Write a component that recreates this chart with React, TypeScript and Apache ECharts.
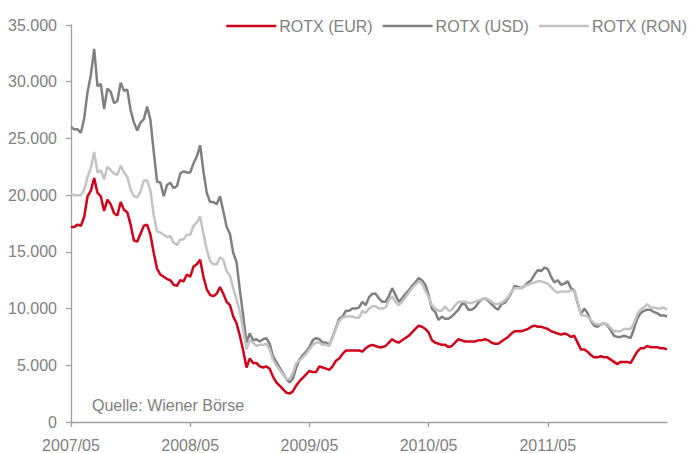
import React, { useEffect, useRef } from "react";
import * as echarts from "echarts";

// Observation dates (about every 10 days)
const dates: string[] = [
  "2007-05-01","2007-05-11","2007-05-21","2007-06-01","2007-06-11","2007-06-21","2007-07-01","2007-07-11","2007-07-21","2007-08-01","2007-08-11","2007-08-21",
  "2007-09-01","2007-09-11","2007-09-21","2007-10-01","2007-10-11","2007-10-21","2007-11-01","2007-11-11","2007-11-21","2007-12-01","2007-12-11","2007-12-21",
  "2008-01-01","2008-01-11","2008-01-21","2008-02-01","2008-02-11","2008-02-21","2008-03-01","2008-03-11","2008-03-21","2008-04-01","2008-04-11","2008-04-21",
  "2008-05-01","2008-05-11","2008-05-21","2008-06-01","2008-06-11","2008-06-21","2008-07-01","2008-07-11","2008-07-21","2008-08-01","2008-08-11","2008-08-21",
  "2008-09-01","2008-09-11","2008-09-21","2008-10-01","2008-10-11","2008-10-21","2008-11-01","2008-11-11","2008-11-21","2008-12-01","2008-12-11","2008-12-21",
  "2009-01-01","2009-01-11","2009-01-21","2009-02-01","2009-02-11","2009-02-21","2009-03-01","2009-03-11","2009-03-21","2009-04-01","2009-04-11","2009-04-21",
  "2009-05-01","2009-05-11","2009-05-21","2009-06-01","2009-06-11","2009-06-21","2009-07-01","2009-07-11","2009-07-21","2009-08-01","2009-08-11","2009-08-21",
  "2009-09-01","2009-09-11","2009-09-21","2009-10-01","2009-10-11","2009-10-21","2009-11-01","2009-11-11","2009-11-21","2009-12-01","2009-12-11","2009-12-21",
  "2010-01-01","2010-01-11","2010-01-21","2010-02-01","2010-02-11","2010-02-21","2010-03-01","2010-03-11","2010-03-21","2010-04-01","2010-04-11","2010-04-21",
  "2010-05-01","2010-05-11","2010-05-21","2010-06-01","2010-06-11","2010-06-21","2010-07-01","2010-07-11","2010-07-21","2010-08-01","2010-08-11","2010-08-21",
  "2010-09-01","2010-09-11","2010-09-21","2010-10-01","2010-10-11","2010-10-21","2010-11-01","2010-11-11","2010-11-21","2010-12-01","2010-12-11","2010-12-21",
  "2011-01-01","2011-01-11","2011-01-21","2011-02-01","2011-02-11","2011-02-21","2011-03-01","2011-03-11","2011-03-21","2011-04-01","2011-04-11","2011-04-21",
  "2011-05-01","2011-05-11","2011-05-21","2011-06-01","2011-06-11","2011-06-21","2011-07-01","2011-07-11","2011-07-21","2011-08-01","2011-08-11","2011-08-21",
  "2011-09-01","2011-09-11","2011-09-21","2011-10-01","2011-10-11","2011-10-21","2011-11-01","2011-11-11","2011-11-21","2011-12-01","2011-12-11","2011-12-21",
  "2012-01-01","2012-01-11","2012-01-21","2012-02-01","2012-02-11","2012-02-21","2012-03-01","2012-03-11","2012-03-21","2012-04-01","2012-04-11","2012-04-21",
  "2012-05-01",
];

const rotxEUR: number[] = [
  17200,17200,17400,17300,18100,19900,20400,21500,20200,19900,
  18600,19600,19200,18400,18200,19400,18700,18500,17400,16000,
  15900,16600,17300,17400,16500,14900,13500,13000,12800,12600,
  12500,12100,12000,12500,12400,13000,12800,13700,13900,14300,
  12800,11700,11200,11100,11300,11900,11300,10600,10300,9300,
  8700,7600,6300,4800,5600,5200,5200,4900,4800,4900,
  4700,4000,3500,3200,2900,2600,2500,2700,3200,3600,
  3900,4200,4500,4400,4400,4900,4800,4700,4600,4900,
  5400,5600,6000,6300,6300,6300,6300,6300,6200,6500,
  6700,6800,6700,6600,6600,6700,7000,7300,7100,7000,
  7200,7400,7600,7900,8200,8500,8400,8200,7900,7200,
  7000,6900,6800,6800,6600,6700,7000,7300,7200,7100,
  7100,7100,7100,7200,7200,7300,7200,7000,6900,6900,
  7100,7300,7500,7800,8000,8000,8000,8100,8200,8400,
  8500,8400,8400,8300,8200,8000,7900,7800,7700,7800,
  7700,7500,7600,7000,6400,6400,6200,5900,5700,5700,
  5800,5700,5700,5500,5300,5100,5300,5300,5300,5200,
  5700,6200,6500,6500,6700,6600,6600,6600,6500,6500,6400,
];

const rotxUSD: number[] = [
  26000,25800,25800,25500,26800,29100,30600,32900,29600,29800,
  27600,29400,29100,28100,28300,29900,29200,29300,27500,26400,
  25700,26400,26700,27800,26600,23800,21200,21100,19900,20900,
  21100,20600,20800,21900,22100,22000,22000,22800,23400,24400,
  22100,20200,19400,19400,19200,19900,18600,17200,16600,14900,
  14100,11600,9400,7000,7800,7200,7300,7100,7300,7400,
  6900,5800,5300,4800,4300,3800,3500,3800,4800,5500,
  5900,6200,6600,7200,7400,7300,7000,7000,6800,7500,
  8300,9100,9300,9800,9800,10000,10000,10100,10600,10300,
  11000,11300,11300,10900,10600,10600,11100,11800,11200,10600,
  10900,11300,11600,12000,12300,12700,12500,12100,11200,10000,
  9700,9000,9300,9100,9100,9300,9600,9900,10400,10400,
  9900,9900,10100,10500,10800,10900,10700,10400,10100,9900,
  10400,10500,10900,11400,12000,11900,11800,12000,12300,12500,
  13000,13400,13300,13600,13500,12800,12300,12500,12100,12200,
  12400,11800,11600,10500,9500,10000,9600,8900,8500,8400,
  8600,8700,8500,8100,7600,7500,7500,7600,7500,7400,
  8200,9100,9600,9800,9900,9900,9700,9600,9400,9400,9300,
];

const rotxRON: number[] = [
  20100,20000,20000,20000,20500,21600,22400,23800,22000,22200,
  21400,22500,22200,21900,21800,22600,22000,21600,20500,19900,
  19800,20300,21300,21300,20400,18200,16800,16700,16500,16300,
  16400,15800,15600,16100,16100,16500,16500,17300,17600,18100,
  16600,15200,14200,13900,13900,14500,14300,13300,12900,11800,
  10800,9700,8100,6400,7200,7000,6700,6800,6800,6900,
  6400,5500,5000,4600,4200,3800,3800,4300,5200,5400,
  5700,6000,6400,6800,7000,7000,6800,6800,6700,7400,
  8200,8900,9200,9300,9300,9300,9200,9200,9800,9600,
  10000,10200,10200,10000,10000,10100,10700,11100,10600,10300,
  10600,11000,11400,11800,12100,12400,12200,11600,11000,10300,
  10000,9800,9800,10200,9800,9900,10300,10600,10600,10600,
  10500,10500,10600,10700,10800,10900,10800,10600,10400,10400,
  10500,10700,11000,11500,11800,11800,11800,12000,12100,12200,
  12300,12400,12400,12300,12200,11900,11600,11400,11500,11500,
  11500,11600,11600,10600,9400,9400,9300,9000,8700,8600,
  8600,8700,8600,8300,8000,8000,8000,8200,8200,8200,
  8700,9500,9900,10100,10400,10100,10100,10000,10000,10100,9900,
];

const seriesNames = ["ROTX (EUR)", "ROTX (USD)", "ROTX (RON)"];
const seriesColors = ["#d0021b", "#808080", "#c3c3c3"];
const xTickMonths = [0, 12, 24, 36, 48];
const xTickLabels = ["2007/05", "2008/05", "2009/05", "2010/05", "2011/05"];
const sourceNote = "Quelle: Wiener Börse";

const FONT = '"Liberation Sans", Arial, sans-serif';
const TEXT_COLOR = "#808080";
const AXIS_COLOR = "#a0a0a0";

function monthOffset(d: string): number {
  const [y, m, day] = d.split("-").map(Number);
  return (y - 2007) * 12 + (m - 5) + (day - 1) / 30;
}

function pairs(values: number[]): [number, number][] {
  return values.map((v, i) => [monthOffset(dates[i]), v]);
}

function fmtThousands(v: number): string {
  if (v === 0) return "0";
  const s = String(Math.round(v));
  return s.replace(/\B(?=(\d{3})+(?!\d))/g, ".");
}

export default function App() {
  const ref = useRef<HTMLDivElement>(null);

  useEffect(() => {
    if (!ref.current) return;
    const chart = echarts.init(ref.current, undefined, { renderer: "svg" });
    const allValues = [rotxEUR, rotxUSD, rotxRON];
    chart.setOption({
      animation: false,
      textStyle: { fontFamily: FONT },
      grid: { left: 71, right: 23, top: 25, bottom: 31, containLabel: false },
      legend: {
        right: 3,
        top: 18,
        padding: 0,
        icon: "rect",
        itemWidth: 50,
        itemHeight: 2.5,
        itemGap: 10,
        textStyle: { fontSize: 16, color: TEXT_COLOR, fontFamily: FONT, padding: [0, 0, 0, -2] },
        data: seriesNames,
      },
      xAxis: {
        type: "value",
        min: 0,
        max: 60,
        interval: 12,
        splitLine: { show: false },
        axisLine: { show: true, lineStyle: { color: AXIS_COLOR, width: 1.3 } },
        axisTick: {
          show: true,
          length: 5,
          inside: false,
          customValues: xTickMonths,
          lineStyle: { color: AXIS_COLOR, width: 1.3 },
        },
        axisLabel: {
          customValues: xTickMonths,
          margin: 15,
          fontSize: 16,
          color: TEXT_COLOR,
          fontFamily: FONT,
          formatter: (v: number) => {
            const i = xTickMonths.indexOf(Math.round(v));
            return i >= 0 ? xTickLabels[i] : "";
          },
        },
      },
      yAxis: {
        type: "value",
        min: 0,
        max: 35000,
        interval: 5000,
        splitLine: { show: false },
        axisLine: { show: true, lineStyle: { color: AXIS_COLOR, width: 1.3 } },
        axisTick: { show: true, length: 5, inside: false, lineStyle: { color: AXIS_COLOR, width: 1.3 } },
        axisLabel: {
          margin: 14,
          fontSize: 16,
          color: TEXT_COLOR,
          fontFamily: FONT,
          formatter: (v: number) => fmtThousands(v),
        },
      },
      graphic: [
        {
          type: "text",
          left: 92,
          top: 397,
          style: { text: sourceNote, fill: TEXT_COLOR, font: `16px ${FONT}` },
        },
      ],
      series: seriesNames.map((name, i) => ({
        name,
        type: "line",
        data: pairs(allValues[i]),
        showSymbol: false,
        symbol: "none",
        color: seriesColors[i],
        lineStyle: { width: 2.5, color: seriesColors[i] },
        z: 2 + i,
      })),
    });
    return () => chart.dispose();
  }, []);

  return (
    <div
      ref={ref}
      style={{ position: "fixed", left: 0, top: 0, width: 690, height: 453, background: "#ffffff" }}
    />
  );
}
